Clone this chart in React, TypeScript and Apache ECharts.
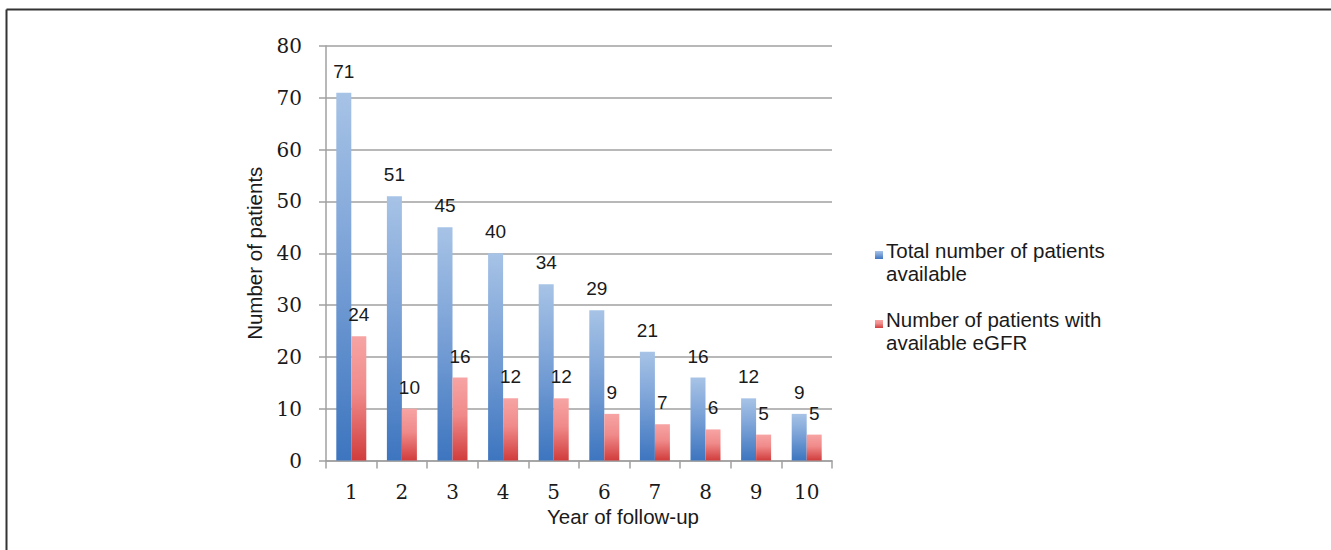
import React, { useEffect, useRef } from "react";
import * as echarts from "echarts";

const years = ["1", "2", "3", "4", "5", "6", "7", "8", "9", "10"];
const totalPatients = [71, 51, 45, 40, 34, 29, 21, 16, 12, 9];
const egfrPatients = [24, 10, 16, 12, 12, 9, 7, 6, 5, 5];
const seriesNames = ["Total number of patients\navailable", "Number of patients with\navailable eGFR"];
const yTicks = { min: 0, max: 80, interval: 10 };

const SANS = "'Liberation Sans', Arial, sans-serif";
const SERIF = "'DejaVu Serif', 'Liberation Serif', serif";

const blueGrad = () =>
  new echarts.graphic.LinearGradient(0, 0, 0, 1, [
    { offset: 0, color: "#a7c3e6" },
    { offset: 0.45, color: "#7ba2d7" },
    { offset: 1, color: "#3d75bf" },
  ]);
const redGrad = () =>
  new echarts.graphic.LinearGradient(0, 0, 0, 1, [
    { offset: 0, color: "#f7a4a4" },
    { offset: 0.45, color: "#f08a8a" },
    { offset: 1, color: "#d13c3c" },
  ]);

export default function App() {
  const ref = useRef<HTMLDivElement>(null);
  useEffect(() => {
    if (!ref.current) return;
    const chart = echarts.init(ref.current, null, { renderer: "svg" });
    const labelCfg = {
      show: true,
      position: "top" as const,
      distance: 12,
      fontFamily: SANS,
      fontSize: 19,
      color: "#1a1a1a",
    };
    const legendItems = seriesNames.map((name, i) => {
      const top = i === 0 ? 239 : 308;
      return {
        type: "group",
        children: [
          {
            type: "rect",
            shape: { x: 875, y: top + 12, width: 8, height: 8 },
            style: { fill: i === 0 ? blueGrad() : redGrad() },
          },
          {
            type: "text",
            x: 886,
            y: top,
            style: {
              text: name,
              font: `20.5px ${SANS}`,
              fill: "#1a1a1a",
              lineHeight: 23,
              verticalAlign: "top",
              align: "left",
            },
          },
        ],
      };
    });
    chart.setOption({
      animation: false,
      backgroundColor: "#ffffff",
      grid: { left: 326, right: 499, top: 46, bottom: 89.5, containLabel: false },
      xAxis: {
        type: "category",
        data: years,
        name: "Year of follow-up",
        nameLocation: "middle",
        nameGap: 45,
        nameTextStyle: { fontFamily: SANS, fontSize: 20.5, color: "#1a1a1a", padding: [0, 0, 0, 88] },
        axisLine: { lineStyle: { color: "#a0a0a0", width: 1.5 } },
        axisTick: { show: true, length: 8, lineStyle: { color: "#a0a0a0", width: 1.5 } },
        axisLabel: { fontFamily: SERIF, fontSize: 20, color: "#1a1a1a", margin: 21 },
      },
      yAxis: {
        type: "value",
        min: yTicks.min,
        max: yTicks.max,
        interval: yTicks.interval,
        name: "Number of patients",
        nameLocation: "middle",
        nameGap: 61,
        nameTextStyle: { fontFamily: SANS, fontSize: 20.5, color: "#1a1a1a" },
        axisLine: { show: true, lineStyle: { color: "#a0a0a0", width: 1.5 } },
        axisTick: { show: true, length: 7, lineStyle: { color: "#a0a0a0", width: 1.5 } },
        axisLabel: { fontFamily: SERIF, fontSize: 20, color: "#1a1a1a", margin: 24 },
        splitLine: { lineStyle: { color: "#a0a0a0", width: 1.5 } },
      },
      series: [
        {
          name: seriesNames[0],
          type: "bar",
          data: totalPatients,
          barWidth: 15,
          barGap: "0%",
          itemStyle: { color: blueGrad() },
          label: labelCfg,
        },
        {
          name: seriesNames[1],
          type: "bar",
          data: egfrPatients,
          barWidth: 15,
          barGap: "0%",
          itemStyle: { color: redGrad() },
          label: labelCfg,
        },
      ],
      graphic: [
        {
          type: "line",
          shape: { x1: 6.5, y1: 9.5, x2: 1331, y2: 9.5 },
          style: { stroke: "#333333", lineWidth: 2 },
        },
        {
          type: "line",
          shape: { x1: 6.5, y1: 9.5, x2: 6.5, y2: 550 },
          style: { stroke: "#333333", lineWidth: 2 },
        },
        ...legendItems,
      ],
    });
    return () => chart.dispose();
  }, []);
  return (
    <div
      ref={ref}
      style={{ position: "fixed", left: 0, top: 0, width: 1331, height: 550, background: "#fff" }}
    />
  );
}
